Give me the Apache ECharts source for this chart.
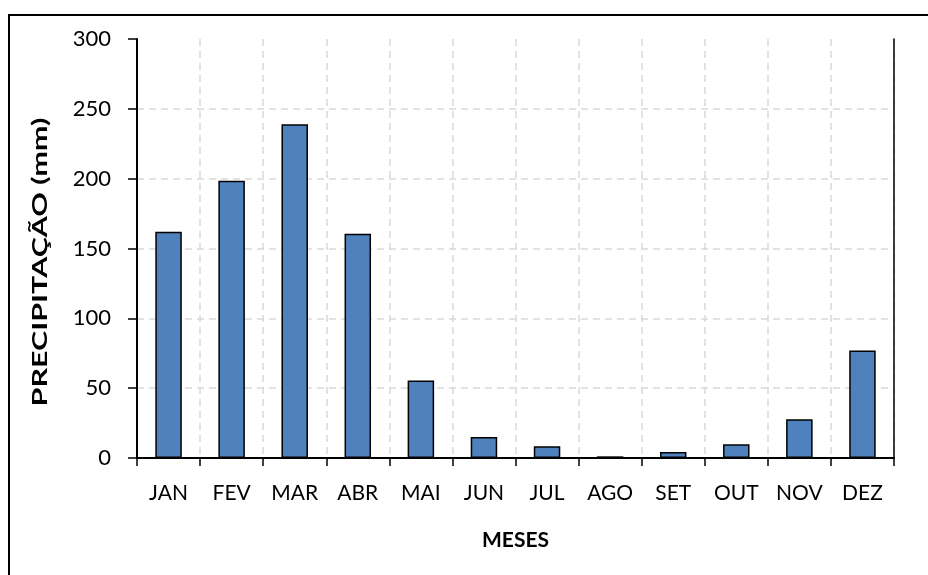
<!DOCTYPE html>
<html>
<head>
<meta charset="utf-8">
<script src="https://cdn.jsdelivr.net/npm/echarts@6/dist/echarts.min.js"></script>
<style>
  html, body { margin: 0; padding: 0; background: #fff; }
  #chart { width: 928px; height: 575px; }
</style>
</head>
<body>
<div id="chart"></div>
<script>
// meses e precipitação média (mm)
var meses = ['JAN', 'FEV', 'MAR', 'ABR', 'MAI', 'JUN', 'JUL', 'AGO', 'SET', 'OUT', 'NOV', 'DEZ'];
var precipitacao = [162, 198.5, 239, 160.5, 55.5, 15, 8.4, 1.2, 4.3, 9.8, 27.7, 77];
var tituloY = 'PRECIPITAÇÃO (mm)';
var tituloX = 'MESES';

var fonte = 'Lato';
var chart = echarts.init(document.getElementById('chart'));

chart.setOption({
    animation: false,
    textStyle: { fontFamily: fonte },
    graphic: [{
        // moldura externa
        type: 'rect',
        shape: { x: 9, y: 15, width: 940, height: 600 },
        style: { fill: null, stroke: '#000', lineWidth: 2 },
        silent: true
    }, {
        // título do eixo y (esticado como no original)
        type: 'text',
        x: 40,
        y: 262,
        rotation: Math.PI / 2,
        scaleX: 1.45,
        style: {
            text: tituloY,
            font: 'bold 21px Lato',
            fill: '#000',
            align: 'center',
            verticalAlign: 'middle'
        },
        silent: true
    }],
    grid: { left: 137, top: 39, right: 34, bottom: 117 },
    xAxis: [{
        type: 'category',
        data: meses,
        name: tituloX,
        nameLocation: 'middle',
        nameGap: 72,
        nameTextStyle: { fontSize: 21, fontWeight: 'bold', color: '#000', fontFamily: fonte },
        axisLine: { lineStyle: { color: '#000', width: 2 } },
        axisTick: { show: true, length: 8, lineStyle: { color: '#000', width: 1.5 } },
        axisLabel: { fontSize: 21, color: '#000', margin: 25 },
        splitLine: { show: true, lineStyle: { color: '#d9d9d9', type: [7, 5], width: 1.5 } }
    }, {
        type: 'category',
        data: meses,
        position: 'top',
        axisLine: { lineStyle: { color: '#000', width: 1.5 } },
        axisTick: { show: false },
        axisLabel: { show: false }
    }],
    yAxis: [{
        type: 'value',
        min: 0,
        max: 300,
        interval: 50,
        axisLine: { show: true, lineStyle: { color: '#000', width: 2 } },
        axisTick: { show: true, length: 9, lineStyle: { color: '#000', width: 1.5 } },
        axisLabel: { fontSize: 22, color: '#000', margin: 26 },
        splitLine: {
            show: true,
            showMinLine: false,
            showMaxLine: false,
            lineStyle: { color: '#d9d9d9', type: [7, 5], width: 1.5 }
        }
    }, {
        type: 'value',
        min: 0,
        max: 300,
        interval: 50,
        position: 'right',
        axisLine: { show: true, lineStyle: { color: '#000', width: 1.5 } },
        axisTick: { show: false },
        axisLabel: { show: false },
        splitLine: { show: false }
    }],
    series: [{
        type: 'bar',
        data: precipitacao,
        barWidth: '42%',
        itemStyle: { color: '#4f81bd', borderColor: '#000', borderWidth: 1.5 }
    }]
});
</script>
</body>
</html>
